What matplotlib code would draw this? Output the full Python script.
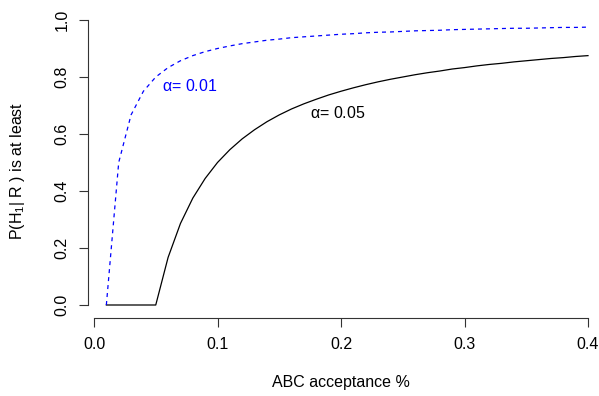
import matplotlib
matplotlib.use("Agg")
import matplotlib.pyplot as plt

plt.rcParams['font.family'] = ['Liberation Sans', 'DejaVu Sans']
plt.rcParams['mathtext.fontset'] = 'custom'
plt.rcParams['mathtext.rm'] = 'Liberation Sans'
plt.rcParams['mathtext.it'] = 'Liberation Sans'

# acceptance rate (x) and lower bound of P(H1|R) for two alpha levels
acceptance = [0.01, 0.02, 0.03, 0.04, 0.05, 0.06, 0.07, 0.08, 0.09, 0.10,
              0.11, 0.12, 0.13, 0.14, 0.15, 0.16, 0.17, 0.18, 0.19, 0.20,
              0.21, 0.22, 0.23, 0.24, 0.25, 0.26, 0.27, 0.28, 0.29, 0.30,
              0.31, 0.32, 0.33, 0.34, 0.35, 0.36, 0.37, 0.38, 0.39, 0.40]
p_alpha05 = [0, 0, 0, 0, 0, 0.167, 0.286, 0.375, 0.444, 0.5,
             0.545, 0.583, 0.615, 0.643, 0.667, 0.688, 0.706, 0.722, 0.737, 0.75,
             0.762, 0.773, 0.783, 0.792, 0.8, 0.808, 0.815, 0.821, 0.828, 0.833,
             0.839, 0.844, 0.848, 0.853, 0.857, 0.861, 0.865, 0.868, 0.872, 0.875]
p_alpha01 = [0, 0.5, 0.667, 0.75, 0.8, 0.833, 0.857, 0.875, 0.889, 0.9,
             0.909, 0.917, 0.923, 0.929, 0.933, 0.938, 0.941, 0.944, 0.947, 0.95,
             0.952, 0.955, 0.957, 0.958, 0.96, 0.962, 0.963, 0.964, 0.966, 0.967,
             0.968, 0.969, 0.970, 0.971, 0.971, 0.972, 0.973, 0.974, 0.974, 0.975]

x_ticks = [0.0, 0.1, 0.2, 0.3, 0.4]
y_ticks = [0.0, 0.2, 0.4, 0.6, 0.8, 1.0]

W, H = 599, 396
fs = 11.5
fig = plt.figure(figsize=(W / 100, H / 100), dpi=100)
# axes placed so that x 0..0.4 spans px 94..588 and y 0..1 spans px 305..20
ax = fig.add_axes([94 / W, 1 - 305 / H, (588 - 94) / W, (305 - 20) / H])
ax.set_xlim(0, 0.4)
ax.set_ylim(0, 1)

ax.plot(acceptance, p_alpha05, color='black', lw=0.9, clip_on=False)
ax.plot(acceptance, p_alpha01, color='#0000ff', lw=0.9, ls=(0, (3.2, 3.2)), clip_on=False)

ax.text(0.055, 0.768, r'$\alpha$= 0.01', color='#0000ff', fontsize=fs, ha='left', va='center')
ax.text(0.175, 0.674, r'$\alpha$= 0.05', color='black', fontsize=fs, ha='left', va='center')

for s in ['top', 'right']:
    ax.spines[s].set_visible(False)
ax.spines['left'].set_position(('outward', 4.3))
ax.spines['bottom'].set_position(('outward', 9.4))
ax.spines['left'].set_bounds(0, 1)
ax.spines['bottom'].set_bounds(0, 0.4)
for s in ['left', 'bottom']:
    ax.spines[s].set_linewidth(0.8)
    ax.spines[s].set_color('#333333')

ax.set_xticks(x_ticks)
ax.set_xticklabels(['%.1f' % v for v in x_ticks])
ax.set_yticks(y_ticks)
ax.set_yticklabels(['%.1f' % v for v in y_ticks], rotation=90, va='center')
ax.tick_params(axis='both', length=6.5, width=0.8, color='#333333', labelsize=fs, pad=7)

ax.set_xlabel('ABC acceptance %', fontsize=fs, labelpad=17)
ax.set_ylabel(r'P(H$_1$| R ) is at least', fontsize=fs)
ax.yaxis.set_label_coords(-0.135, 0.47)

fig.savefig('out.png', dpi=100)
